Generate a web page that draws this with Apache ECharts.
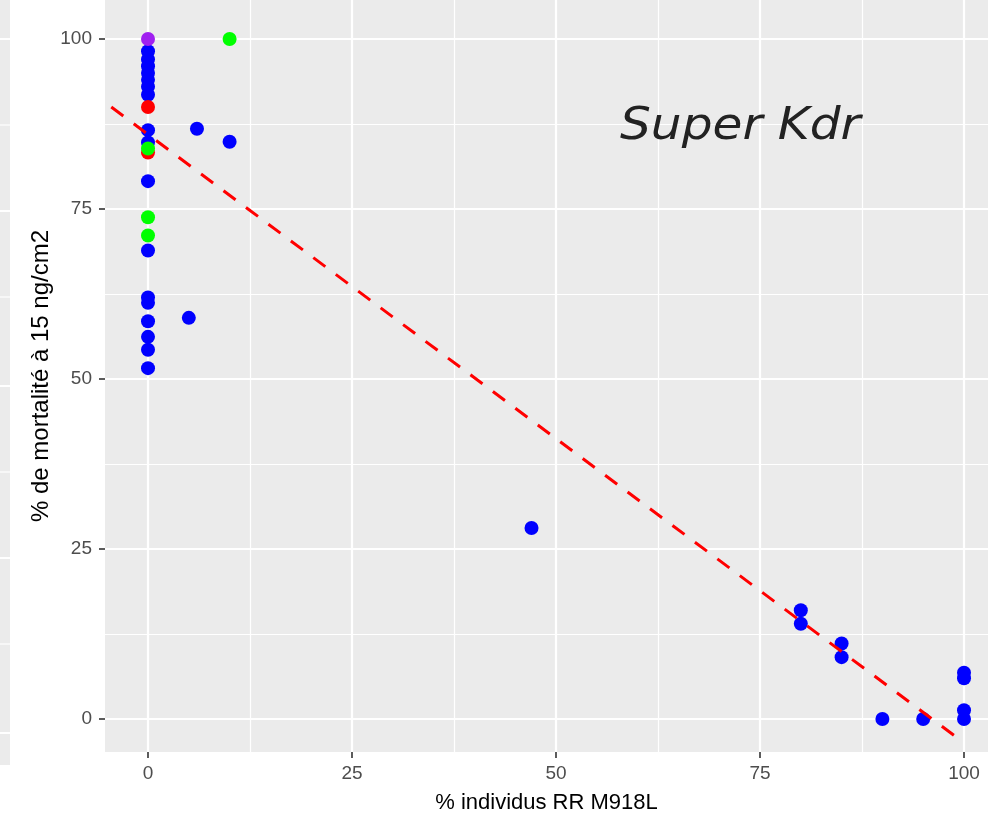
<!DOCTYPE html>
<html>
<head>
<meta charset="utf-8">
<script src="https://cdn.jsdelivr.net/npm/echarts@6/dist/echarts.min.js"></script>
<style>
html,body{margin:0;padding:0;background:#fff;}
#chart{width:988px;height:817px;}
</style>
</head>
<body>
<div id="chart"></div>
<script>
// ---- data ----
var blueX = [0,0,0,0,0,0,0, 0,0,0,0,0,0,0,0,0,0, 5,6,10,47,80,80,85,85,90,95,100,100,100,100];
var blueY = [98.2,97.0,96.0,95.0,94.0,93.0,91.8, 86.6,84.8,79.1,68.9,62.0,61.2,58.5,56.2,54.3,51.6, 59.0,86.8,84.9,28.1,16.0,14.0,11.1,9.1,0,0,6.8,6.0,1.3,0];
var redX = [0,0];
var redY = [90.0,83.3];
var greenX = [0,0,0,10];
var greenY = [83.9,73.8,71.1,100];
var purpleX = [0];
var purpleY = [100];
var fitX = [-4.5,100];
var fitY = [90.0,-3.5];
var majorTicks = [0,25,50,75,100];
var minorTicks = [12.5,37.5,62.5,87.5];
var xTitle = '% individus RR M918L';
var yTitle = '% de mortalité à 15 ng/cm2';
var annotation = 'Super Kdr';

function pairs(xs, ys){ return xs.map(function(x,i){ return [x, ys[i]]; }); }

var chart = echarts.init(document.getElementById('chart'), null, {renderer:'canvas'});
var FONT = "'Liberation Sans', Arial, sans-serif";

var gridLines = [];
majorTicks.forEach(function(v){
  gridLines.push({xAxis:v, lineStyle:{color:'#fff', width:2.2, type:'solid'}});
  gridLines.push({yAxis:v, lineStyle:{color:'#fff', width:2.2, type:'solid'}});
});
minorTicks.forEach(function(v){
  gridLines.push({xAxis:v, lineStyle:{color:'#fff', width:1.2, type:'solid'}});
  gridLines.push({yAxis:v, lineStyle:{color:'#fff', width:1.2, type:'solid'}});
});

// neighbouring panel artifact on the far left
var stripLines = [39,125,211,297,386,472,558,644,733];
var graphics = [{
  type:'rect', left:0, top:0, shape:{width:10, height:765}, style:{fill:'#EBEBEB'}, silent:true, z:0
}];
stripLines.forEach(function(y, i){
  graphics.push({type:'line', shape:{x1:0,y1:y,x2:10,y2:y}, style:{stroke:'#fff', lineWidth: i%2===0?2:1.2}, silent:true, z:1});
});
graphics.push({
  type:'text', x:620, y:105, scaleX:1.08, originX:0, originY:0,
  style:{text:annotation, font:"italic 45px 'DejaVu Sans', Verdana, sans-serif", fill:'#222222'},
  z:10
});

var axisCommon = {
  type:'value',
  axisLine:{show:false, onZero:false},
  splitLine:{show:false},
  axisTick:{show:true, length:6, lineStyle:{color:'#333333', width:1.6}, customValues:majorTicks},
  axisLabel:{color:'#4D4D4D', fontSize:19, fontFamily:FONT, customValues:majorTicks},
  nameTextStyle:{color:'#000', fontFamily:FONT}
};

var option = {
  animation:false,
  backgroundColor:'#ffffff',
  grid:{left:105, right:0, top:0, bottom:65, show:true, backgroundColor:'#EBEBEB', borderWidth:0, outerBoundsMode:'none', containLabel:false},
  xAxis: Object.assign({}, axisCommon, {
    min:-5.27, max:102.94,
    axisLabel: Object.assign({}, axisCommon.axisLabel, {margin:12}),
    name:xTitle, nameLocation:'middle', nameGap:40,
    nameTextStyle:{color:'#000', fontFamily:FONT, fontSize:22}
  }),
  yAxis: Object.assign({}, axisCommon, {
    min:-4.85, max:105.74,
    axisLabel: Object.assign({}, axisCommon.axisLabel, {margin:13}),
    name:yTitle, nameLocation:'middle', nameGap:52, nameRotate:90, nameMoveOverlap:false,
    nameTextStyle:{color:'#000', fontFamily:FONT, fontSize:24}
  }),
  graphic: graphics,
  series:[
    {type:'line', data:[], silent:true, z:1,
     markLine:{silent:true, symbol:['none','none'], label:{show:false}, animation:false, z:1, data:gridLines}},
    {type:'scatter', data:pairs(blueX, blueY), symbolSize:14, itemStyle:{color:'#0000FF', opacity:1}, z:3},
    {type:'scatter', data:pairs(redX, redY), symbolSize:14, itemStyle:{color:'#FF0000', opacity:1}, z:4},
    {type:'scatter', data:pairs(greenX, greenY), symbolSize:14, itemStyle:{color:'#00FF00', opacity:1}, z:5},
    {type:'scatter', data:pairs(purpleX, purpleY), symbolSize:14, itemStyle:{color:'#A020F0', opacity:1}, z:6},
    {type:'line', data:pairs(fitX, fitY), showSymbol:false, symbol:'none', z:7,
     lineStyle:{color:'#FF0000', width:3, type:[15,13]}}
  ]
};
chart.setOption(option);
</script>
</body>
</html>
